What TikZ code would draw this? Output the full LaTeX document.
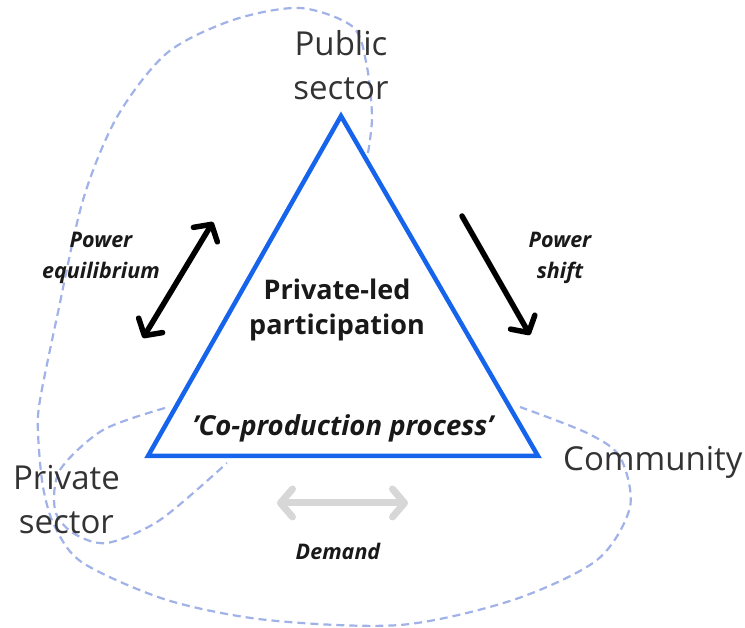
\documentclass[tikz,border=0pt]{standalone}
\usepackage{fontspec}
\setmainfont{Open Sans}
\usepackage{tikz}
\usetikzlibrary{arrows.meta, positioning}
\definecolor{triblue}{RGB}{22,100,235}
\definecolor{loopblue}{RGB}{160,178,232}
\definecolor{demgray}{RGB}{215,215,215}

\begin{document}
\begin{tikzpicture}[x=1pt, y=1pt, inner sep=0pt,
    actor/.style={font=\fontsize{33}{44}\selectfont, text=black!80, align=center},
    tag/.style={font=\fontsize{21.5}{31}\selectfont\bfseries\itshape, text=black!90, align=center},
    core/.style={font=\fontsize{27}{35}\selectfont\bfseries, text=black!90, align=center},
    tri/.style={draw=triblue, line width=4.5pt, line join=miter},
    band/.style={draw=loopblue, line width=2.2pt, dash pattern=on 8pt off 5pt},
    barb/.style={line width=5.5pt, line cap=round,
        {Straight Barb[length=12pt, width=28pt, line cap=round, line join=round]}-{Straight Barb[length=12pt, width=28pt, line cap=round, line join=round]}},
    onebarb/.style={line width=5.5pt, line cap=round,
        -{Straight Barb[length=12pt, width=28pt, line cap=round, line join=round]}}]
  \useasboundingbox (0,0) rectangle (745,628);

  % corners of the triangle
  \coordinate (v_pub)  at (341,512);
  \coordinate (v_priv) at (148,172);
  \coordinate (v_comm) at (538,172);

  % dashed groupings
  \draw[band] plot[smooth] coordinates {(368,475) (372,511) (367,561) (353,601) (300,620)
      (233,608) (167,575) (117,511) (83,428) (57,311) (40,228) (38,195) (43,141) (55,101)
      (83,65) (167,28) (267,8) (400,3) (513,28) (597,68) (630,121) (620,171) (587,195) (520,221)};
  \draw[band] plot[smooth] coordinates {(165,220) (103,198) (60,158) (55,118) (73,95)
      (107,85) (160,108) (227,165)};

  \draw[tri] (v_pub) -- (v_priv) -- (v_comm) -- cycle;

  \node[actor] (l_pub)  [above=16pt of v_pub] {Public\\sector};
  \node[actor] (l_priv) [below left=9pt and 28pt of v_priv] {Private\\sector};
  \node[actor] (l_comm) [right=25pt of v_comm, yshift=-6pt] {Community};

  \node[core] (l_core)   at (337,318) {Private-led\\participation};
  \node[core, font=\fontsize{27.5}{30}\selectfont\bfseries\itshape] (l_coprod) at (343,200) {'Co-production process'};

  \node[tag] (l_equi)  at (101,370) {Power\\equilibrium};
  \node[tag] (l_shift) at (560,370) {Power\\shift};
  \node[tag] (l_dem)   at (338,77)  {Demand};

  % arrows
  \coordinate (eq_a) at (143,290);
  \coordinate (eq_b) at (213,406);
  \coordinate (sh_a) at (462,412);
  \coordinate (sh_b) at (530,293);
  \coordinate (dm_a) at (277,125);
  \coordinate (dm_b) at (408,125);
  \draw[barb] (eq_a) -- (eq_b);
  \draw[onebarb] (sh_a) -- (sh_b);
  \draw[barb, demgray, line width=7pt] (dm_a) -- (dm_b);
\end{tikzpicture}
\end{document}
